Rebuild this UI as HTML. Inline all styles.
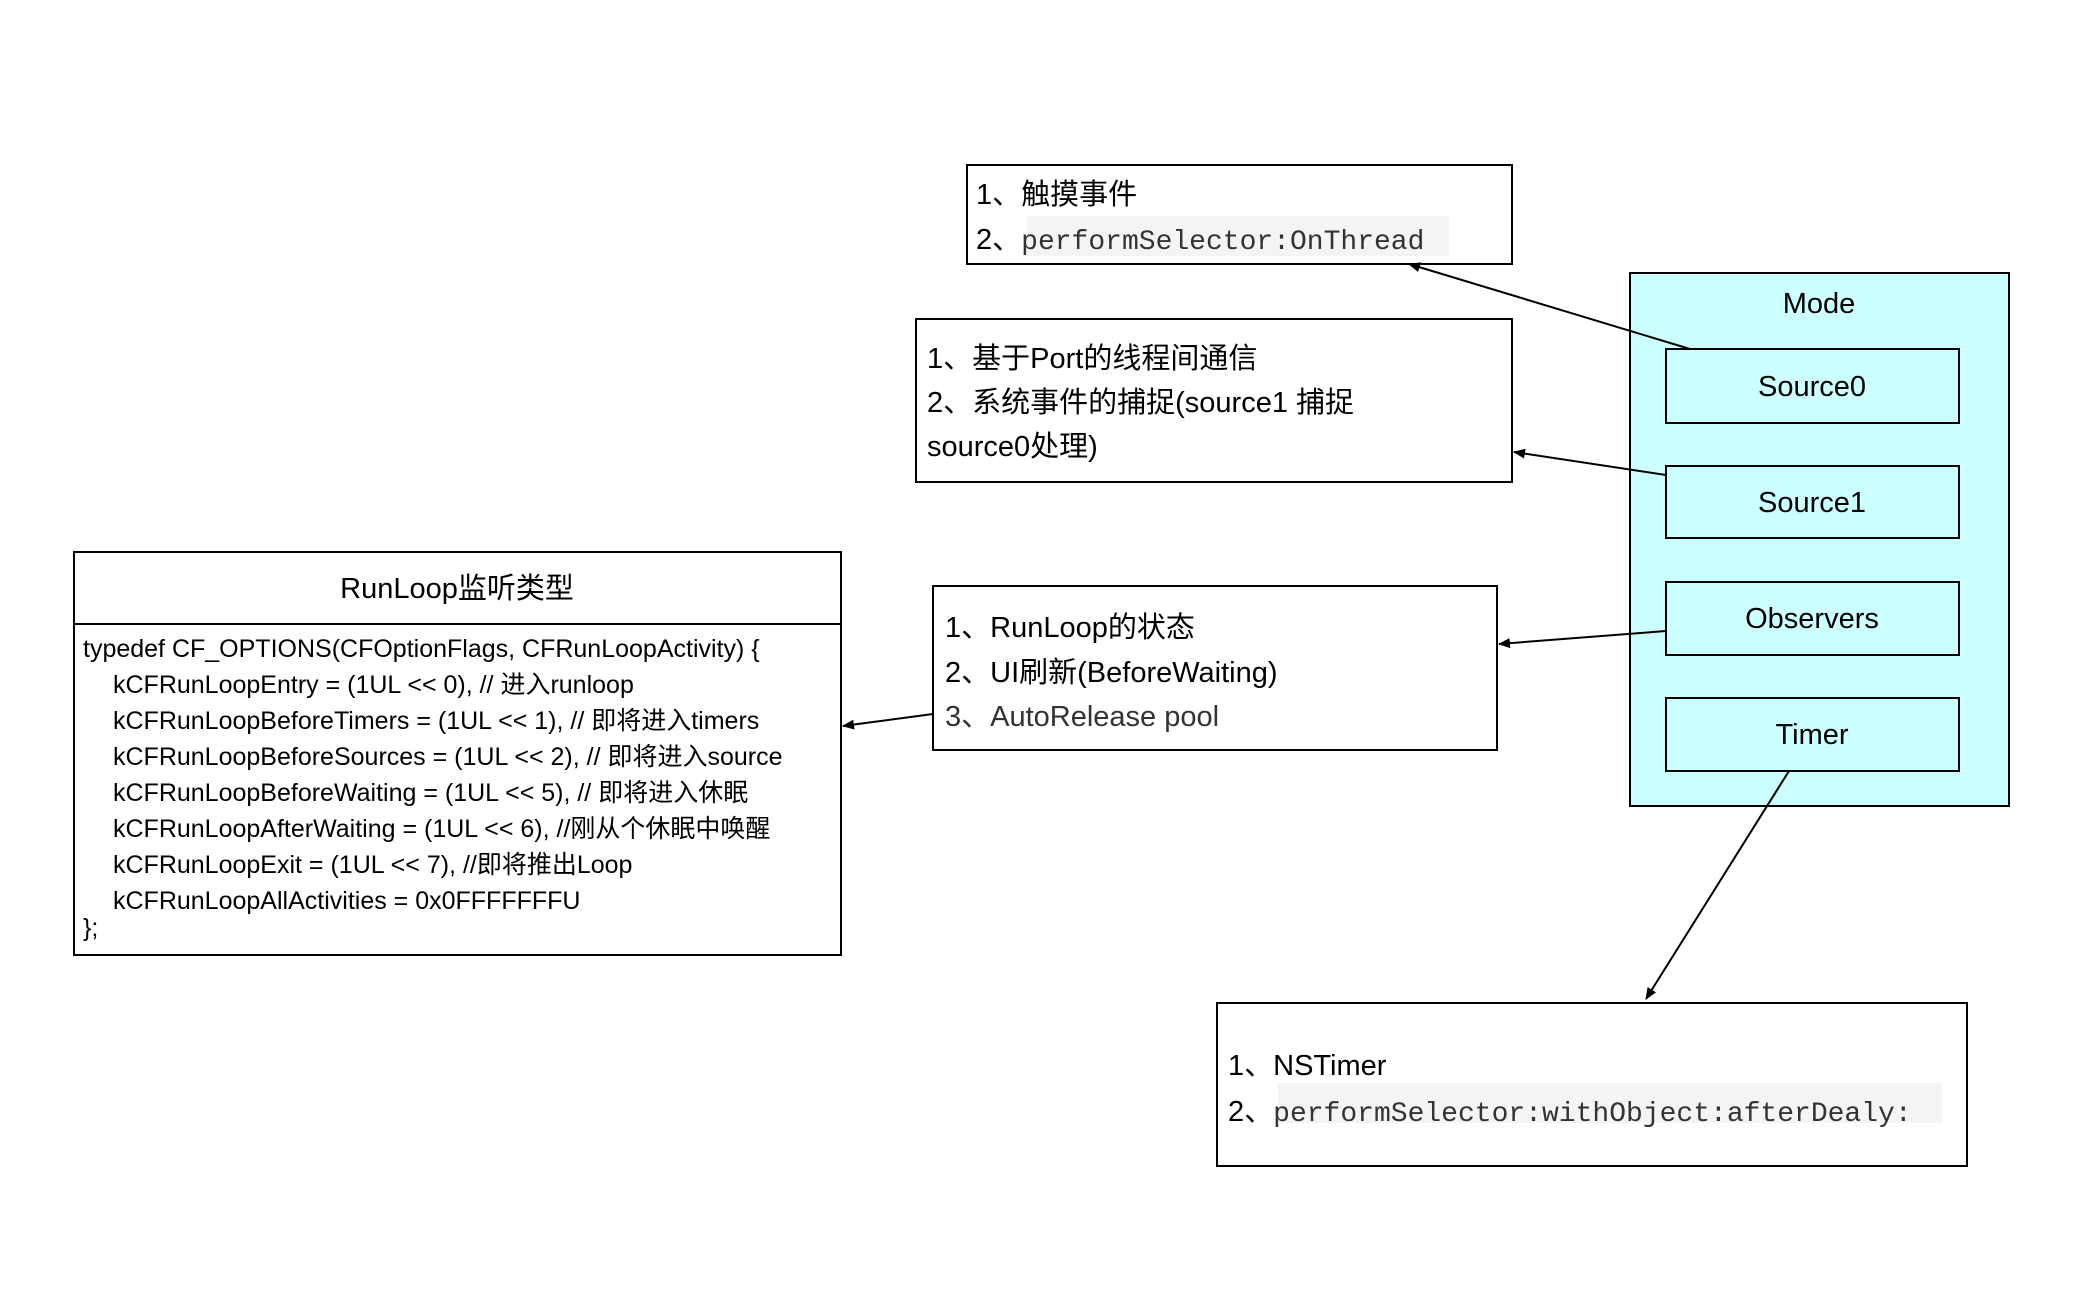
<!DOCTYPE html>
<html><head><meta charset="utf-8"><style>
html,body{margin:0;padding:0;background:#fff;}
svg{display:block;}
text{font-family:"Liberation Sans","Noto Sans CJK SC",sans-serif;fill:#000;}
.m{font-family:"Liberation Mono","Noto Sans CJK SC",monospace;fill:#333;}
</style></head><body>
<svg width="2078" height="1296" viewBox="0 0 2078 1296" xmlns="http://www.w3.org/2000/svg">
<defs><marker id="a" markerWidth="12" markerHeight="10" refX="11" refY="5" orient="auto" markerUnits="userSpaceOnUse"><path d="M0,0 L12,5 L0,10 Z" fill="#000"/></marker></defs>
<g fill="none" stroke="#000" stroke-width="2">
<rect x="967" y="165" width="545" height="99" fill="#fff"/>
<rect x="916" y="319" width="596" height="163" fill="#fff"/>
<rect x="933" y="586" width="564" height="164" fill="#fff"/>
<rect x="1217" y="1003" width="750" height="163" fill="#fff"/>
<rect x="1630" y="273" width="379" height="533" fill="#ccffff"/>
<rect x="1666" y="349" width="293" height="74" fill="#ccffff"/>
<rect x="1666" y="466" width="293" height="72" fill="#ccffff"/>
<rect x="1666" y="582" width="293" height="73" fill="#ccffff"/>
<rect x="1666" y="698" width="293" height="73" fill="#ccffff"/>
<rect x="74" y="552" width="767" height="403" fill="#fff"/>
<line x1="74" y1="624" x2="841" y2="624"/>
<line x1="1690" y1="349" x2="1409" y2="264" marker-end="url(#a)"/>
<line x1="1666" y1="475" x2="1514" y2="452" marker-end="url(#a)"/>
<line x1="1666" y1="631" x2="1499" y2="644" marker-end="url(#a)"/>
<line x1="933" y1="714" x2="843" y2="726" marker-end="url(#a)"/>
<line x1="1789" y1="771" x2="1646" y2="999" marker-end="url(#a)"/>
</g>
<rect x="1027" y="216" width="422" height="40" fill="#f4f4f4"/>
<rect x="1278" y="1083" width="664" height="40" fill="#f4f4f4"/>
<g font-size="29">
<text x="976" y="204">1、触摸事件</text>
<text x="976" y="249">2、<tspan class="m" font-size="28">performSelector:OnThread</tspan></text>
<text x="927" y="368">1、基于Port的线程间通信</text>
<text x="927" y="412">2、系统事件的捕捉(source1 捕捉</text>
<text x="927" y="456">source0处理)</text>
<text x="945" y="637">1、RunLoop的状态</text>
<text x="945" y="682">2、UI刷新(BeforeWaiting)</text>
<text x="945" y="726" style="fill:#333">3、AutoRelease pool</text>
<text x="1228" y="1075">1、NSTimer</text>
<text x="1228" y="1121">2、<tspan class="m" font-size="28">performSelector:withObject:afterDealy:</tspan></text>
<text x="1819" y="313" text-anchor="middle">Mode</text>
<text x="1812" y="396" text-anchor="middle">Source0</text>
<text x="1812" y="512" text-anchor="middle">Source1</text>
<text x="1812" y="628" text-anchor="middle">Observers</text>
<text x="1812" y="744" text-anchor="middle">Timer</text>
<text x="457" y="598" text-anchor="middle">RunLoop监听类型</text>
</g>
<g font-size="25">
<text x="83" y="657">typedef CF_OPTIONS(CFOptionFlags, CFRunLoopActivity) {</text>
<text x="113" y="693">kCFRunLoopEntry = (1UL &lt;&lt; 0), // 进入runloop</text>
<text x="113" y="729">kCFRunLoopBeforeTimers = (1UL &lt;&lt; 1), // 即将进入timers</text>
<text x="113" y="765">kCFRunLoopBeforeSources = (1UL &lt;&lt; 2), // 即将进入source</text>
<text x="113" y="801">kCFRunLoopBeforeWaiting = (1UL &lt;&lt; 5), // 即将进入休眠</text>
<text x="113" y="837">kCFRunLoopAfterWaiting = (1UL &lt;&lt; 6), //刚从个休眠中唤醒</text>
<text x="113" y="873">kCFRunLoopExit = (1UL &lt;&lt; 7), //即将推出Loop</text>
<text x="113" y="909">kCFRunLoopAllActivities = 0x0FFFFFFFU</text>
<text x="83" y="936">};</text>
</g>
</svg>
</body></html>
